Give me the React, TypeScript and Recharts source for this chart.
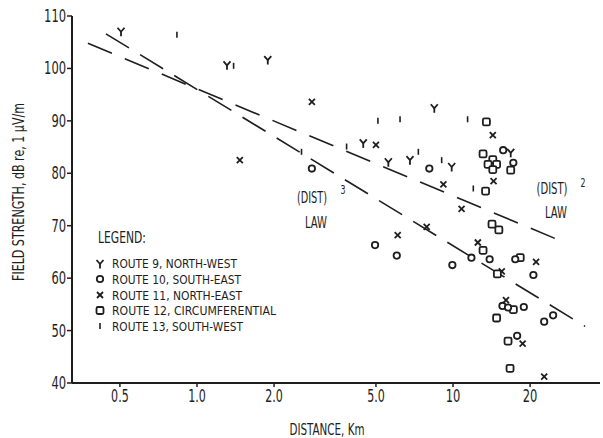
import React from 'react';
import { ScatterChart, Scatter, XAxis, YAxis } from 'recharts';

// Route 9, North-West (Y)
const route9 = [
  { x: 0.505, y: 107.0 }, { x: 1.31, y: 100.6 }, { x: 1.89, y: 101.6 },
  { x: 4.46, y: 85.7 }, { x: 5.59, y: 82.1 }, { x: 6.79, y: 82.5 },
  { x: 8.45, y: 92.4 }, { x: 9.88, y: 81.2 }, { x: 16.8, y: 83.9 },
];
// Route 10, South-East (o)
const route10 = [
  { x: 2.81, y: 80.9 }, { x: 8.08, y: 80.9 }, { x: 15.7, y: 84.4 }, { x: 17.2, y: 82.0 },
  { x: 4.96, y: 66.3 }, { x: 6.03, y: 64.3 }, { x: 9.94, y: 62.5 }, { x: 11.8, y: 63.9 },
  { x: 13.9, y: 63.6 }, { x: 17.5, y: 63.6 }, { x: 20.6, y: 60.6 }, { x: 15.6, y: 54.7 },
  { x: 16.4, y: 54.4 }, { x: 18.9, y: 54.5 }, { x: 24.6, y: 52.9 }, { x: 22.7, y: 51.7 },
  { x: 17.8, y: 49.0 },
];
// Route 11, North-East (x)
const route11 = [
  { x: 1.47, y: 82.5 }, { x: 2.81, y: 93.6 }, { x: 5.0, y: 85.4 }, { x: 9.17, y: 77.9 },
  { x: 14.3, y: 87.3 }, { x: 14.4, y: 78.5 }, { x: 10.8, y: 73.2 }, { x: 6.08, y: 68.2 },
  { x: 7.89, y: 69.8 }, { x: 12.5, y: 66.8 }, { x: 21.1, y: 63.1 }, { x: 15.5, y: 61.3 },
  { x: 16.1, y: 55.8 }, { x: 18.7, y: 47.5 }, { x: 22.7, y: 41.2 },
];
// Route 12, Circumferential (square)
const route12 = [
  { x: 13.5, y: 89.8 }, { x: 13.1, y: 83.7 }, { x: 14.3, y: 82.6 }, { x: 13.7, y: 81.7 },
  { x: 14.8, y: 81.7 }, { x: 14.3, y: 80.7 }, { x: 16.8, y: 80.6 }, { x: 13.4, y: 76.6 },
  { x: 14.2, y: 70.3 }, { x: 15.1, y: 69.2 }, { x: 13.1, y: 65.3 }, { x: 18.3, y: 63.9 },
  { x: 14.9, y: 60.8 }, { x: 17.2, y: 54.0 }, { x: 14.8, y: 52.4 }, { x: 16.4, y: 48.0 },
  { x: 16.7, y: 42.8 },
];
// Route 13, South-West (1)
const route13 = [
  { x: 0.835, y: 106.4 }, { x: 1.39, y: 100.5 }, { x: 2.56, y: 84.1 }, { x: 3.84, y: 85.1 },
  { x: 5.09, y: 90.0 }, { x: 6.21, y: 90.3 }, { x: 7.32, y: 84.1 }, { x: 9.03, y: 82.5 },
  { x: 11.4, y: 90.3 }, { x: 12.0, y: 77.1 },
];
// (DIST)^3 and (DIST)^2 law lines
const law3 = [{ x: 0.441, y: 106.6 }, { x: 32.8, y: 50.8 }];
const law2 = [{ x: 0.375, y: 104.8 }, { x: 27.9, y: 66.6 }];

const xTicks = [0.5, 1, 2, 5, 10, 20];
const xTickLabels = ['0.5', '1.0', '2.0', '5.0', '10', '20'];
const yTicks = [40, 50, 60, 70, 80, 90, 100, 110];

const legendItems = [
  { label: 'ROUTE 9, NORTH-WEST', kind: 'Y', w: 125 },
  { label: 'ROUTE 10, SOUTH-EAST', kind: 'o', w: 129 },
  { label: 'ROUTE 11, NORTH-EAST', kind: 'x', w: 130 },
  { label: 'ROUTE 12, CIRCUMFERENTIAL', kind: 's', w: 164 },
  { label: 'ROUTE 13, SOUTH-WEST', kind: 'i', w: 131 },
];

const INK = '#1e1e1e';
const FONT = "'Liberation Sans Narrow','DejaVu Sans Condensed','Liberation Sans',sans-serif";

function Marker({ kind, cx, cy }: { kind: string; cx: number; cy: number }) {
  if (cx == null || cy == null) return <g />;
  const sw = 1.8;
  if (kind === 'Y') {
    return (
      <g stroke={INK} strokeWidth={sw} fill="none">
        <polyline points={`${cx - 3.5},${cy - 4} ${cx},${cy} ${cx + 3.5},${cy - 4}`} />
        <line x1={cx} y1={cy} x2={cx} y2={cy + 4.5} />
      </g>
    );
  }
  if (kind === 'o') {
    return <circle cx={cx} cy={cy} r={3.2} stroke={INK} strokeWidth={sw} fill="white" />;
  }
  if (kind === 'x') {
    return (
      <g stroke={INK} strokeWidth={sw}>
        <line x1={cx - 3} y1={cy - 3} x2={cx + 3} y2={cy + 3} />
        <line x1={cx - 3} y1={cy + 3} x2={cx + 3} y2={cy - 3} />
      </g>
    );
  }
  if (kind === 's') {
    return <rect x={cx - 3.5} y={cy - 3.5} width={7} height={7} rx={1.5} stroke={INK} strokeWidth={sw} fill="white" />;
  }
  return <line x1={cx} y1={cy - 3} x2={cx} y2={cy + 3} stroke={INK} strokeWidth={1.6} />;
}

const mk = (kind: string) => (p: any) => <Marker kind={kind} cx={p.cx} cy={p.cy} />;

function numW(s: string) {
  let w = 0;
  for (const c of s) w += c === '.' ? 3 : 7.3;
  return w;
}

const YTick = (p: any) => {
  const s = String(p.payload.value);
  return (
    <text x={p.x} y={p.y} dy={6} textAnchor="end" fontSize={17} fontFamily={FONT} fill={INK}
      textLength={numW(s)} lengthAdjust="spacingAndGlyphs">{s}</text>
  );
};

const XTick = (p: any) => {
  const i = xTicks.indexOf(p.payload.value);
  const s = i >= 0 ? xTickLabels[i] : String(p.payload.value);
  return (
    <text x={p.x} y={p.y} dy={13} textAnchor="middle" fontSize={17} fontFamily={FONT} fill={INK}
      textLength={numW(s)} lengthAdjust="spacingAndGlyphs">{s}</text>
  );
};

function T({ x, y, w, size = 16, children, anchor = 'start' }: any) {
  return (
    <text x={x} y={y} fontSize={size} fontFamily={FONT} fill={INK} textAnchor={anchor}
      dominantBaseline="central" textLength={w} lengthAdjust="spacingAndGlyphs">{children}</text>
  );
}

export default function App() {
  const legendY = [263, 279, 295, 310.5, 326];
  return (
    <div style={{ position: 'absolute', left: 0, top: 0, width: 603, height: 438, background: 'white' }}>
      <ScatterChart width={603} height={438} margin={{ top: 16, right: 3, left: 0, bottom: 0 }}>
        <XAxis type="number" dataKey="x" scale="log" domain={[0.325, 37.5]} allowDataOverflow
          ticks={xTicks} tick={<XTick />} height={55} tickSize={4}
          axisLine={{ stroke: INK, strokeWidth: 2 }} tickLine={{ stroke: INK, strokeWidth: 1.5 }} />
        <YAxis type="number" dataKey="y" domain={[40, 110]} ticks={yTicks} allowDataOverflow
          tick={<YTick />} width={72} tickSize={5} tickMargin={1}
          axisLine={{ stroke: INK, strokeWidth: 2 }} tickLine={{ stroke: INK, strokeWidth: 1.5 }} />
        <Scatter data={law3} isAnimationActive={false} lineType="joint" shape={() => <g />}
          line={{ stroke: INK, strokeWidth: 1.6, strokeDasharray: '27 13' }} />
        <Scatter data={law2} isAnimationActive={false} lineType="joint" shape={() => <g />}
          line={{ stroke: INK, strokeWidth: 1.6, strokeDasharray: '26 14' }} />
        <Scatter data={route13} isAnimationActive={false} shape={mk('i')} />
        <Scatter data={route11} isAnimationActive={false} shape={mk('x')} />
        <Scatter data={route12} isAnimationActive={false} shape={mk('s')} />
        <Scatter data={route10} isAnimationActive={false} shape={mk('o')} />
        <Scatter data={route9} isAnimationActive={false} shape={mk('Y')} />
      </ScatterChart>
      <svg width={603} height={438} style={{ position: 'absolute', left: 0, top: 0, pointerEvents: 'none' }}>
        <text transform="translate(19,192) rotate(-90)" textAnchor="middle" dominantBaseline="central"
          fontSize={15} fontFamily={FONT} fill={INK} textLength={178} lengthAdjust="spacingAndGlyphs">
          FIELD STRENGTH, dB re, 1 μV/m
        </text>
        <T x={327} y={430} w={75} size={15} anchor="middle">DISTANCE, Km</T>
        <T x={98} y={238} w={48} size={15}>LEGEND:</T>
        {legendItems.map((it, i) => (
          <g key={it.label}>
            <Marker kind={it.kind} cx={100} cy={legendY[i] + (it.kind === 'Y' ? 1 : 0)} />
            <T x={112} y={legendY[i]} w={it.w} size={13}>{it.label}</T>
          </g>
        ))}
        <T x={312} y={197} w={30} size={16} anchor="middle">(DIST)</T>
        <T x={343} y={190} w={5} size={12} anchor="middle">3</T>
        <T x={316} y={222} w={22} size={16} anchor="middle">LAW</T>
        <T x={552} y={188} w={31} size={16} anchor="middle">(DIST)</T>
        <T x={583} y={183} w={5} size={12} anchor="middle">2</T>
        <T x={556} y={212} w={22} size={16} anchor="middle">LAW</T>
      </svg>
    </div>
  );
}
